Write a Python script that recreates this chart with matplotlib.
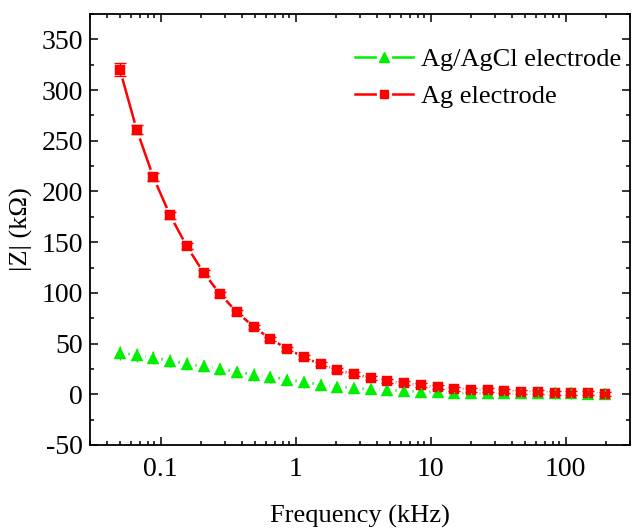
import matplotlib
matplotlib.use('Agg')
import matplotlib.pyplot as plt
from matplotlib.lines import Line2D
from matplotlib.legend_handler import HandlerTuple
from matplotlib.ticker import FixedLocator, FixedFormatter, MultipleLocator, NullFormatter

plt.rcParams['font.family'] = ['Liberation Serif', 'DejaVu Serif']
plt.rcParams['axes.unicode_minus'] = False

# ---- data ----
freq_khz = [0.05, 0.0665, 0.0884, 0.1176, 0.1564, 0.208, 0.2767, 0.368, 0.4894, 0.651,
            0.8657, 1.151, 1.531, 2.037, 2.709, 3.603, 4.792, 6.373, 8.476, 11.27,
            14.99, 19.94, 26.52, 35.27, 46.91, 62.39, 82.98, 110.4, 146.8, 195.2]

ag_z = [320, 261, 214, 176.5, 146, 120, 98.6, 81, 66.5, 54.5,
        45, 36.5, 29.6, 24, 19.7, 16.2, 13.1, 10.8, 8.9, 6.8,
        5.6, 4.6, 3.9, 3.3, 2.7, 2.1, 1.7, 1.2, 0.9, 0.6]
ag_err = [6.5, 4.5, 4, 3.5, 3, 3, 2.5, 2.5, 2, 2,
          2, 2, 2, 2, 2, 2, 2, 2, 2, 2,
          2, 2, 2, 2, 2, 2, 2, 2, 2, 2]

agcl_z = [41, 38.5, 36, 33, 30, 27.5, 25, 22, 19.5, 17,
          14.5, 12, 9.5, 7.5, 6, 5, 4, 3.2, 2.5, 2,
          1.6, 1.4, 1.2, 1.1, 1.0, 0.9, 0.8, 0.8, 0.7, 0.7]
agcl_err = [7, 7, 6.5, 6.5, 6.5, 6, 6, 6, 6, 5.5,
            5.5, 5.5, 5.5, 5, 5, 5, 5, 5, 5, 5,
            5, 5, 5, 5, 5, 5, 5, 5, 5, 5]

series_labels = ['Ag/AgCl electrode', 'Ag electrode']
xtick_vals = [0.1, 1, 10, 100]
xtick_labels = ['0.1', '1', '10', '100']

RED = '#ff0000'
GREEN = '#00ee00'

fig = plt.figure(figsize=(6.33, 5.30), dpi=100)
ax = fig.add_axes([90/633, 1-445/530, 540/633, 431/530])

# lines
ax.plot(freq_khz, ag_z, '-', color=RED, lw=1.8, zorder=2)
ax.plot(freq_khz, agcl_z, '-', color=GREEN, lw=1.8, zorder=2)
# white halos to create gaps between line and symbol
ax.plot(freq_khz, ag_z, 'o', ms=12, mfc='white', mec='none', zorder=2.2)
ax.plot(freq_khz, agcl_z, 'o', ms=11.5, mfc='white', mec='none', zorder=2.2)
# symbols
ax.plot(freq_khz, agcl_z, '^', ms=8.5, color=GREEN, mec=GREEN, mew=0.3, zorder=3)
ax.plot(freq_khz, ag_z, 's', ms=7.5, color=RED, mec=RED, mew=0.3, zorder=3.1)
# error bars
ax.errorbar(freq_khz, agcl_z, yerr=agcl_err, fmt='none', ecolor=GREEN, elinewidth=1.0,
            capsize=0, zorder=3.5)
ax.errorbar(freq_khz, ag_z, yerr=ag_err, fmt='none', ecolor=RED, elinewidth=1.0,
            capsize=4, capthick=1.0, zorder=3.5)

ax.set_xscale('log')
ax.set_xlim(0.03, 300)
ax.set_ylim(-50, 375)

ax.xaxis.set_major_locator(FixedLocator(xtick_vals))
ax.xaxis.set_major_formatter(FixedFormatter(xtick_labels))
minor = [m * 10.0**e for e in range(-2, 3) for m in range(2, 10)]
ax.xaxis.set_minor_locator(FixedLocator([v for v in minor if 0.03 <= v <= 300]))
ax.xaxis.set_minor_formatter(NullFormatter())
ax.yaxis.set_major_locator(MultipleLocator(50))
ax.yaxis.set_minor_locator(MultipleLocator(25))

ax.tick_params(which='both', direction='in', top=True, right=True, width=1.1, colors='black')
ax.tick_params(which='major', length=5.5, labelsize=20)
ax.tick_params(which='minor', length=3)
ax.tick_params(axis='x', which='major', pad=9)
ax.tick_params(axis='y', which='major', pad=5)
for s in ax.spines.values():
    s.set_linewidth(1.3)

ax.set_xlabel('Frequency (kHz)', fontsize=19, labelpad=16)
ax.set_ylabel('|Z| (kΩ)', fontsize=19, labelpad=6)

# legend
def entry(color, marker, ms):
    line = Line2D([], [], color=color, lw=1.8, marker='o', ms=11, mfc='white', mec='none')
    mk = Line2D([], [], color=color, linestyle='none', marker=marker, ms=ms, mec=color)
    return (line, mk)

handles = [entry(GREEN, '^', 7.5), entry(RED, 's', 6)]
leg = fig.legend(handles, series_labels, loc='upper left',
                 bbox_to_anchor=(355/633, 1-48/530), frameon=False, fontsize=19,
                 handler_map={tuple: HandlerTuple(ndivide=1)},
                 handlelength=2.2, handletextpad=0.3, labelspacing=0.5, borderpad=0,
                 borderaxespad=0)

fig.savefig('out.png', dpi=100)
